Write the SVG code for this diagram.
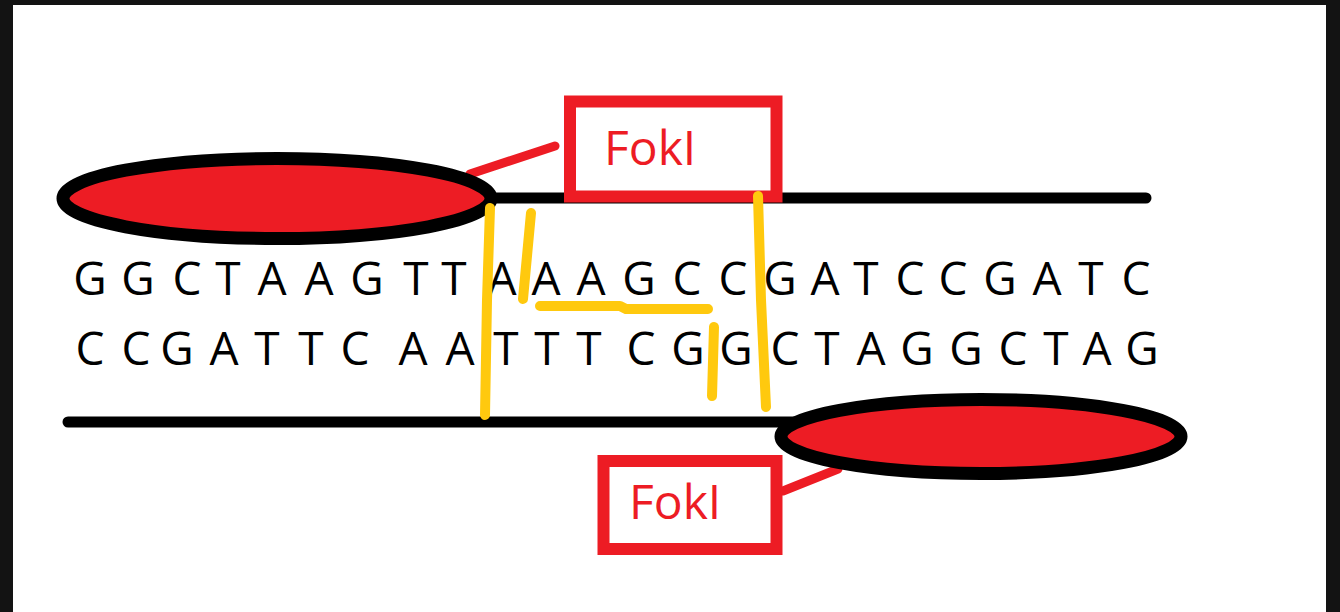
<svg xmlns="http://www.w3.org/2000/svg" width="1340" height="612" viewBox="0 0 1340 612">
  <style>
    .strand { stroke: #000; stroke-width: 11; stroke-linecap: round; fill: none; }
    .prot { fill: #ED1C24; stroke: #000; stroke-width: 13; }
    .box { fill: #fff; stroke: #ED1C24; stroke-width: 12; }
    .lbl { font-family: "Open Sans", "Liberation Sans", sans-serif; font-size: 48px; fill: #ED1C24; }
    .seq { font-family: "Open Sans", "Liberation Sans", sans-serif; font-size: 46px; fill: #000; text-anchor: middle; }
    .link { stroke: #ED1C24; stroke-width: 9; stroke-linecap: round; fill: none; }
    .mark { stroke: #FFC90E; stroke-width: 10; stroke-linecap: round; stroke-linejoin: round; fill: none; }
  </style>
  <rect x="0" y="0" width="1340" height="612" fill="#131313"/>
  <rect x="13" y="5" width="1313" height="607" fill="#fff"/>

  <g id="strands">
    <line class="strand" x1="300" y1="198" x2="1146" y2="198"/>
    <line class="strand" x1="68" y1="422" x2="900" y2="422"/>
  </g>

  <g id="connectors">
    <line class="link" x1="470" y1="174" x2="555" y2="146"/>
    <line class="link" x1="783" y1="491" x2="838" y2="469"/>
  </g>

  <g id="fokI-top">
    <ellipse class="prot" cx="277" cy="198.5" rx="214" ry="40"/>
  </g>
  <g id="fokI-bottom">
    <ellipse class="prot" cx="981" cy="436.5" rx="200" ry="37"/>
  </g>

  <g id="label-top">
    <rect class="box" x="570" y="101.5" width="206.5" height="95"/>
    <text class="lbl" x="604" y="165">FokI</text>
  </g>
  <g id="label-bottom">
    <rect class="box" x="603.5" y="461" width="173" height="88"/>
    <text class="lbl" x="629" y="519">FokI</text>
  </g>

  <g id="sequence">
    <text class="seq" y="295" x="90 138 187 228 272 319 367 416 454 502 546 591 639 687 733 780 825 866 910 953 1000 1047 1091 1136">GGCTAAGTTAAAGCCGATCCGATC</text>
    <text class="seq" y="365" x="90 136 177 224 267 311 355 413 460 506 547 589 641 688 736 785 827 871 917 966 1013 1056 1097 1142">CCGATTCAATTTCGGCTAGGCTAG</text>
  </g>

  <g id="cut-marks">
    <polyline class="mark" points="490,208 487,300 485,415"/>
    <line class="mark" x1="531" y1="213" x2="523" y2="299"/>
    <polyline class="mark" points="540,306 620,306 626,309 708,309"/>
    <line class="mark" x1="714" y1="327" x2="712" y2="396"/>
    <polyline class="mark" points="758,196 761,300 766,407"/>
  </g>
</svg>
